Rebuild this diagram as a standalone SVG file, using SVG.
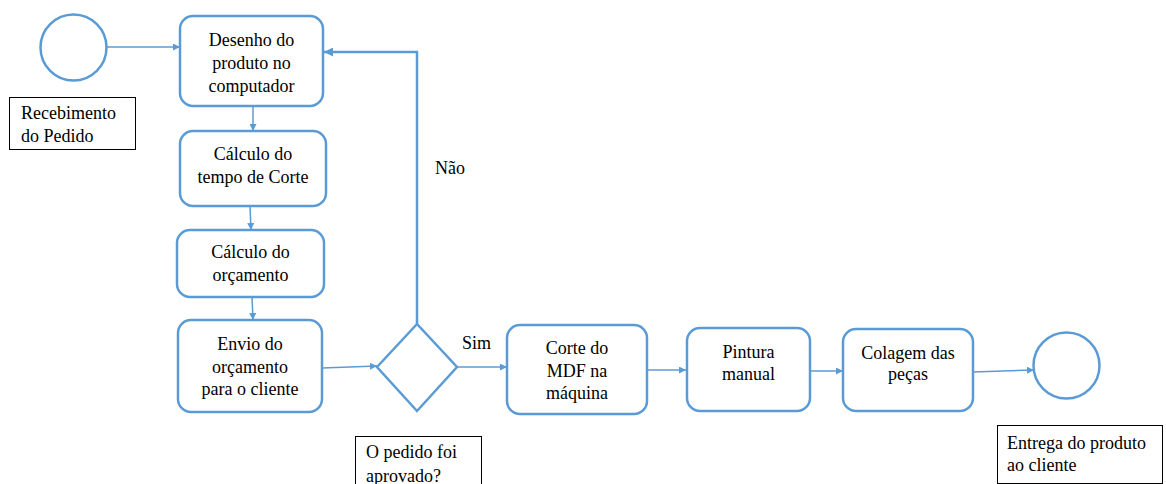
<svg xmlns="http://www.w3.org/2000/svg" width="1166" height="484" viewBox="0 0 1166 484">
<style>
.node{fill:#fff;stroke:#5B9BD5;stroke-width:2.5}
.lbl{fill:#fff;stroke:#000;stroke-width:1}
text{font-family:'Liberation Serif','DejaVu Serif',serif;font-size:18px;fill:#000}
.c{text-anchor:middle}
.conn{fill:none;stroke:#5B9BD5;stroke-width:1.5}
.loop{fill:none;stroke:#5B9BD5;stroke-width:2.5}
</style>
<defs>
<marker id="ah" viewBox="0 0 10 10" refX="10" refY="5" markerWidth="7" markerHeight="7" markerUnits="userSpaceOnUse" orient="auto">
<path d="M0,0 L10,5 L0,10 z" fill="#5B9BD5"/>
</marker>
<marker id="ah2" viewBox="0 0 10 10" refX="10" refY="5" markerWidth="9" markerHeight="9" markerUnits="userSpaceOnUse" orient="auto">
<path d="M0,0 L10,5 L0,10 z" fill="#5B9BD5"/>
</marker>
</defs>
<rect width="1166" height="484" fill="#fff"/>
<g id="connectors">
<line class="conn" x1="107" y1="47" x2="180" y2="47" marker-end="url(#ah)"/>
<line class="conn" x1="253" y1="106" x2="253" y2="131" marker-end="url(#ah)"/>
<line class="conn" x1="250" y1="206" x2="251" y2="230" marker-end="url(#ah)"/>
<line class="conn" x1="252" y1="297" x2="253" y2="320" marker-end="url(#ah)"/>
<line class="conn" x1="322" y1="368" x2="377" y2="366" marker-end="url(#ah)"/>
<line class="conn" x1="457" y1="367" x2="507" y2="367" marker-end="url(#ah)"/>
<line class="conn" x1="648" y1="370" x2="686" y2="370" marker-end="url(#ah)"/>
<line class="conn" x1="810" y1="371" x2="843" y2="371" marker-end="url(#ah)"/>
<line class="conn" x1="973" y1="372" x2="1034" y2="370" marker-end="url(#ah)"/>
<polyline class="loop" points="417,324 417,52 324,52" marker-end="url(#ah2)"/>
</g>
<g id="start"><circle class="node" cx="73.5" cy="47.5" r="33"/></g>
<g id="start-label" font-family="Liberation Serif, serif"><rect class="lbl" x="9.5" y="97.5" width="126" height="52"/>
<text x="21" y="119">Recebimento</text><text x="21" y="142">do Pedido</text></g>
<g id="desenho"><rect class="node" x="180" y="16" width="143" height="90" rx="13"/>
<text class="c" x="251.5" y="46">Desenho do</text><text class="c" x="251.5" y="69">produto no</text><text class="c" x="251.5" y="92">computador</text></g>
<g id="tempo"><rect class="node" x="180" y="131" width="146" height="75" rx="13"/>
<text class="c" x="253" y="160">Cálculo do</text><text class="c" x="253" y="183">tempo de Corte</text></g>
<g id="orcamento"><rect class="node" x="177" y="230" width="147" height="67" rx="13"/>
<text class="c" x="250.5" y="258">Cálculo do</text><text class="c" x="250.5" y="281">orçamento</text></g>
<g id="envio"><rect class="node" x="178" y="320" width="144" height="92" rx="13"/>
<text class="c" x="250" y="350">Envio do</text><text class="c" x="250" y="373">orçamento</text><text class="c" x="250" y="395">para o cliente</text></g>
<g id="decisao"><polygon class="node" points="377,367 417,324 457,367 417,411"/></g>
<g id="decisao-label"><rect class="lbl" x="355.5" y="436.5" width="126" height="60"/>
<text x="366" y="458">O pedido foi</text><text x="366" y="482">aprovado?</text></g>
<text x="462" y="349">Sim</text>
<text x="435" y="174">Não</text>
<g id="corte"><rect class="node" x="507" y="325" width="140" height="89" rx="13"/>
<text class="c" x="577" y="354">Corte do</text><text class="c" x="577" y="377">MDF na</text><text class="c" x="577" y="399">máquina</text></g>
<g id="pintura"><rect class="node" x="687" y="328" width="123" height="83" rx="13"/>
<text class="c" x="748.5" y="358">Pintura</text><text class="c" x="748.5" y="380">manual</text></g>
<g id="colagem"><rect class="node" x="843" y="329" width="130" height="82" rx="13"/>
<text class="c" x="908" y="359">Colagem das</text><text class="c" x="908" y="380">peças</text></g>
<g id="end"><circle class="node" cx="1066.5" cy="365.5" r="33"/></g>
<g id="end-label"><rect class="lbl" x="997.5" y="425.5" width="165" height="58"/>
<text x="1007" y="449">Entrega do produto</text><text x="1007" y="471">ao cliente</text></g>
</svg>
